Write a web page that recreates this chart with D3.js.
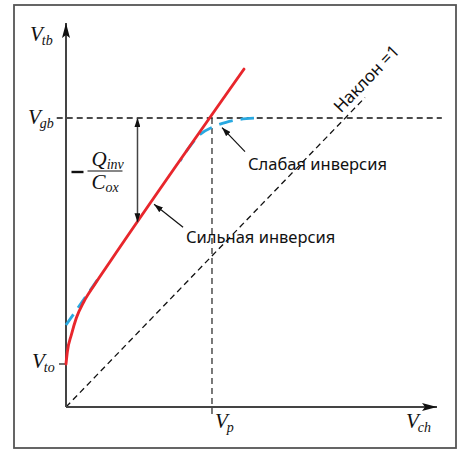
<!DOCTYPE html>
<html>
<head>
<meta charset="utf-8">
<script src="https://cdn.jsdelivr.net/npm/d3@7"></script>
<style>
  body { margin: 0; background: #fff; }
  .math { font-family: "Liberation Serif", "DejaVu Serif", serif; font-style: italic; }
  .note { font-family: "Noto Sans", "Open Sans", sans-serif; }
</style>
</head>
<body>
<svg id="chart" width="464" height="450"></svg>
<script>
// Characteristic voltages (normalised units)
const levelNames = ["Vto", "Vgb", "Vp"];
const levelValues = [0.112, 0.7526, 0.3935];

// Pinch-off curve V_tb(V_ch): square-root rise from V_to, then the strong-inversion line
const strongX = [0, 0.0035, 0.0143, 0.0278, 0.0477, 0.0782, 0.12, 0.4798];
const strongY = [0.112, 0.1432, 0.1875, 0.2318, 0.2734, 0.3203, 0.3802, 0.880];

// Linear strong-inversion asymptote near the origin
const asymX = [0, 0.09];
const asymY = [0.2135, 0.3385];

// Weak-inversion branch bending towards V_gb
const weakX = [0.3073, 0.3396, 0.3612, 0.3962, 0.4313, 0.4690, 0.5067];
const weakY = [0.6406, 0.6859, 0.7096, 0.7292, 0.7414, 0.7490, 0.7521];

// Reference line with unit slope
const unityX = [0, 0.806];
const unityY = [0, 0.806];

// Annotation texts
const noteStrong = "Сильная инверсия";
const noteWeak = "Слабая инверсия";
const noteSlope = "Наклон =1";

const [Vto, Vgb, Vp] = levelValues;
const zip = (xs, ys) => xs.map((v, i) => [v, ys[i]]);

const svg = d3.select("#chart");
const x = d3.scaleLinear().domain([0, 1]).range([66, 437]);
const y = d3.scaleLinear().domain([0, 1]).range([407, 23]);

const AX = "#444";

// markers
const defs = svg.append("defs");
defs.append("marker").attr("id", "axisHead")
  .attr("viewBox", "0 0 15 8").attr("refX", 15).attr("refY", 4)
  .attr("markerWidth", 15).attr("markerHeight", 8)
  .attr("markerUnits", "userSpaceOnUse").attr("orient", "auto")
  .append("path").attr("d", "M0,0 L15,4 L0,8 L3,4 Z").attr("fill", "#111");
defs.append("marker").attr("id", "smallHead")
  .attr("viewBox", "0 0 9 6").attr("refX", 9).attr("refY", 3)
  .attr("markerWidth", 9).attr("markerHeight", 6)
  .attr("markerUnits", "userSpaceOnUse").attr("orient", "auto-start-reverse")
  .append("path").attr("d", "M0,0 L9,3 L0,6 Z").attr("fill", "#111");

// frame
svg.append("rect").attr("x", 14).attr("y", 5).attr("width", 442).attr("height", 443)
  .attr("fill", "none").attr("stroke", "#555").attr("stroke-width", 1.8);

const line = d3.line().x(d => x(d[0])).y(d => y(d[1]));

// dashed guides
const dashG = svg.append("g").attr("fill", "none").attr("stroke-width", 1.3).attr("stroke-dasharray", "6,4");
dashG.append("path").attr("stroke", "#111")
  .attr("d", line([[-0.025, Vgb], [1.013, Vgb]]));
dashG.append("path").attr("stroke", "#333")
  .attr("d", line([[Vp, Vgb], [Vp, -0.026]]));
dashG.append("path").attr("stroke", "#111")
  .attr("d", line(zip(unityX, unityY)));

// axes
svg.append("line").attr("x1", x(0)).attr("y1", y(0)).attr("x2", x(0)).attr("y2", y(1))
  .attr("stroke", AX).attr("stroke-width", 2).attr("marker-end", "url(#axisHead)");
svg.append("line").attr("x1", x(0)).attr("y1", y(0)).attr("x2", x(1)).attr("y2", y(0))
  .attr("stroke", AX).attr("stroke-width", 2).attr("marker-end", "url(#axisHead)");
// V_to tick
svg.append("line").attr("x1", x(0) - 7).attr("x2", x(0)).attr("y1", y(Vto)).attr("y2", y(Vto))
  .attr("stroke", AX).attr("stroke-width", 1.5);

// blue dashed curves
const smooth = d3.line().x(d => x(d[0])).y(d => y(d[1])).curve(d3.curveMonotoneX);
svg.append("path").attr("d", smooth(zip(asymX, asymY)))
  .attr("fill", "none").attr("stroke", "#29a9e1").attr("stroke-width", 2.8)
  .attr("stroke-dasharray", "13,8");
svg.append("path").attr("d", smooth(zip(weakX, weakY)))
  .attr("fill", "none").attr("stroke", "#29a9e1").attr("stroke-width", 2.8)
  .attr("stroke-dasharray", "14,8").attr("stroke-dashoffset", 11);

// red curve
svg.append("path").attr("d", smooth(zip(strongX, strongY)))
  .attr("fill", "none").attr("stroke", "#e8262c").attr("stroke-width", 2.9)
  .attr("stroke-linecap", "round");

// strong inversion line value at xv
const slope = (strongY[7] - strongY[6]) / (strongX[7] - strongX[6]);
const onLine = xv => strongY[6] + slope * (xv - strongX[6]);

// -Q_inv/C_ox double arrow
const qx = 0.1927;
svg.append("line").attr("x1", x(qx)).attr("x2", x(qx))
  .attr("y1", y(Vgb)).attr("y2", y(onLine(qx)))
  .attr("stroke", AX).attr("stroke-width", 1.5)
  .attr("marker-start", "url(#smallHead)").attr("marker-end", "url(#smallHead)");

// annotation arrows
const sx = 0.232, sTipX = x(sx) + 2, sTipY = y(onLine(sx)) + 3;
svg.append("line").attr("x1", sTipX + 29).attr("y1", sTipY + 23).attr("x2", sTipX).attr("y2", sTipY)
  .attr("stroke", "#111").attr("stroke-width", 1.2).attr("marker-end", "url(#smallHead)");
const wTipX = x(0.4205), wTipY = y(0.738) + 4;
svg.append("line").attr("x1", wTipX + 23).attr("y1", wTipY + 24).attr("x2", wTipX).attr("y2", wTipY)
  .attr("stroke", "#111").attr("stroke-width", 1.2).attr("marker-end", "url(#smallHead)");

// notes
svg.append("text").attr("class", "note").attr("x", sTipX + 32).attr("y", sTipY + 39)
  .attr("font-size", 16.5).attr("fill", "#111").text(noteStrong);
svg.append("text").attr("class", "note").attr("x", wTipX + 26).attr("y", wTipY + 42)
  .attr("font-size", 16.5).attr("fill", "#111").text(noteWeak);
const mid = [x(0.81), y(0.855)];
svg.append("text").attr("class", "note")
  .attr("transform", `translate(${mid[0]},${mid[1]}) rotate(-46)`)
  .attr("text-anchor", "middle").attr("dy", "0.35em")
  .attr("font-size", 17).attr("fill", "#111").text(noteSlope);

// math labels V with subscript
function vlabel(px, py, sub) {
  const t = svg.append("text").attr("class", "math").attr("x", px).attr("y", py)
    .attr("fill", "#111");
  t.append("tspan").attr("font-size", 21).text("V");
  t.append("tspan").attr("font-size", 14).attr("dy", 4).attr("dx", -1).text(sub);
  return t;
}
vlabel(x(0) - 36, y(1) + 18, "tb");
vlabel(x(0) - 38, y(Vgb) + 6, "gb");
vlabel(x(0) - 34, y(Vto) + 4, "to");
vlabel(x(Vp) + 3, y(0) + 21, "p");
vlabel(x(1) - 31, y(0) + 21, "ch");

// -Q_inv / C_ox
const fx = x(qx) - 50, fy = y(Vgb) + 53;
svg.append("line").attr("x1", fx - 16).attr("x2", fx - 4).attr("y1", fy + 1).attr("y2", fy + 1)
  .attr("stroke", "#111").attr("stroke-width", 2.4);
svg.append("line").attr("x1", fx).attr("x2", fx + 35).attr("y1", fy).attr("y2", fy)
  .attr("stroke", "#111").attr("stroke-width", 1.1);
const q = svg.append("text").attr("class", "math").attr("x", fx + 4).attr("y", fy - 5).attr("fill", "#111");
q.append("tspan").attr("font-size", 21).text("Q");
q.append("tspan").attr("font-size", 14).attr("dy", 3).text("inv");
const c = svg.append("text").attr("class", "math").attr("x", fx + 4).attr("y", fy + 18).attr("fill", "#111");
c.append("tspan").attr("font-size", 21).text("C");
c.append("tspan").attr("font-size", 14).attr("dy", 3).text("ox");
</script>
</body>
</html>
